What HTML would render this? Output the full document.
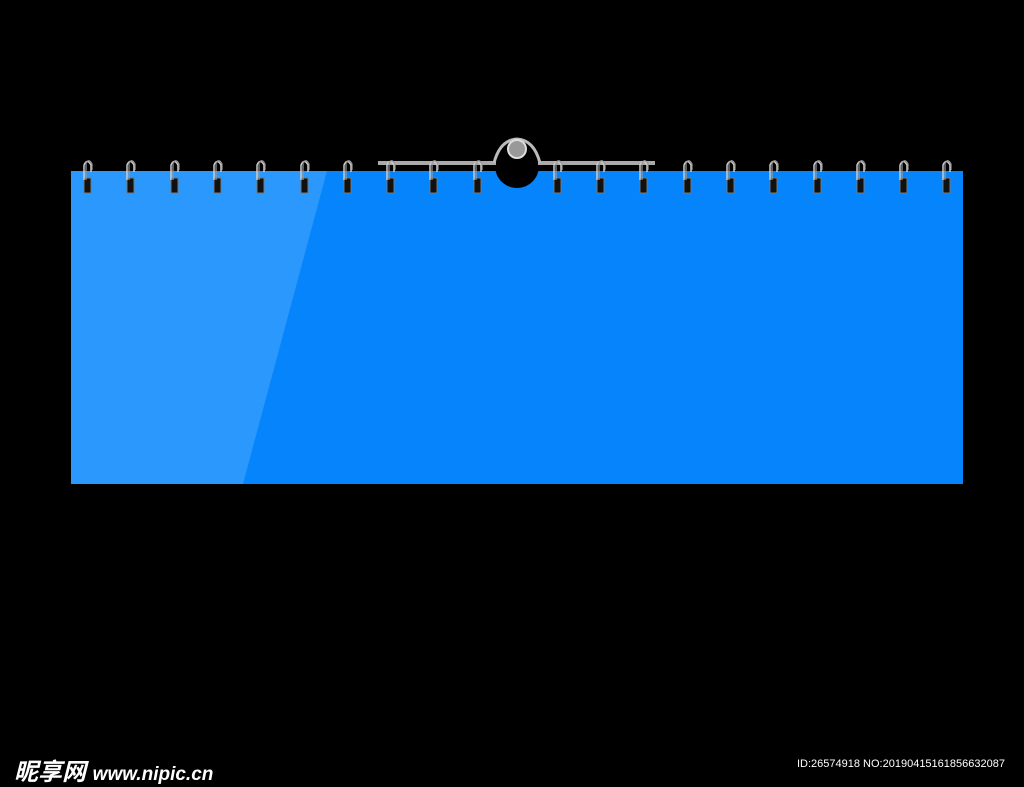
<!DOCTYPE html>
<html><head><style>
html,body{margin:0;padding:0;background:#000;width:1024px;height:784px;overflow:hidden}
.t{position:absolute;font-family:"Liberation Sans","Noto Sans CJK SC",sans-serif;color:#fff}
</style></head><body>
<svg width="1024" height="784" style="position:absolute;left:0;top:0">
<rect x="71" y="171" width="892" height="313" fill="#0584fb"/>
<polygon points="71,171 327,171 243,484 71,484" fill="#2a98fd"/>
<circle cx="517" cy="166" r="22" fill="#000"/>
<line x1="378" y1="163" x2="496" y2="163" stroke="#aaa" stroke-width="4"/>
<line x1="538" y1="163" x2="655" y2="163" stroke="#aaa" stroke-width="4"/>
<path d="M494,163 Q500,140 517,139 Q534,140 540,163" fill="none" stroke="#bbb" stroke-width="3"/>
<circle cx="517" cy="149" r="9" fill="#999" stroke="#ddd" stroke-width="2"/>
<g id="rings">
</g>
</svg>
<script>
var xs=[87,130,174,217,260,304,347,390,433,477,557,600,643,687,730,773,817,860,903,946];
var g=document.getElementById('rings'),s='';
xs.forEach(function(x){
s+='<rect x="'+(x-3)+'" y="178" width="7" height="15" fill="#111" stroke="#777" stroke-width="1"/>';
s+='<path d="M'+(x-3)+',180 L'+(x-3)+',165 Q'+x+',158 '+(x+4)+',165 L'+(x+4)+',172" fill="none" stroke="#ccc" stroke-width="1.5"/>';
s+='<path d="M'+(x-1)+',180 L'+(x-1)+',163 Q'+(x+2)+',158 '+(x+5)+',164 L'+(x+5)+',170" fill="none" stroke="#999" stroke-width="1.2"/>';
});
g.innerHTML=s;
</script>
<div class="t" style="left:14px;top:752px;font-size:24px;font-weight:bold;font-style:italic">昵享网 <span style="font-size:19px">www.nipic.cn</span></div>
<div class="t" style="left:797px;top:758px;font-size:11px">ID:26574918 NO:20190415161856632087</div>
</body></html>
